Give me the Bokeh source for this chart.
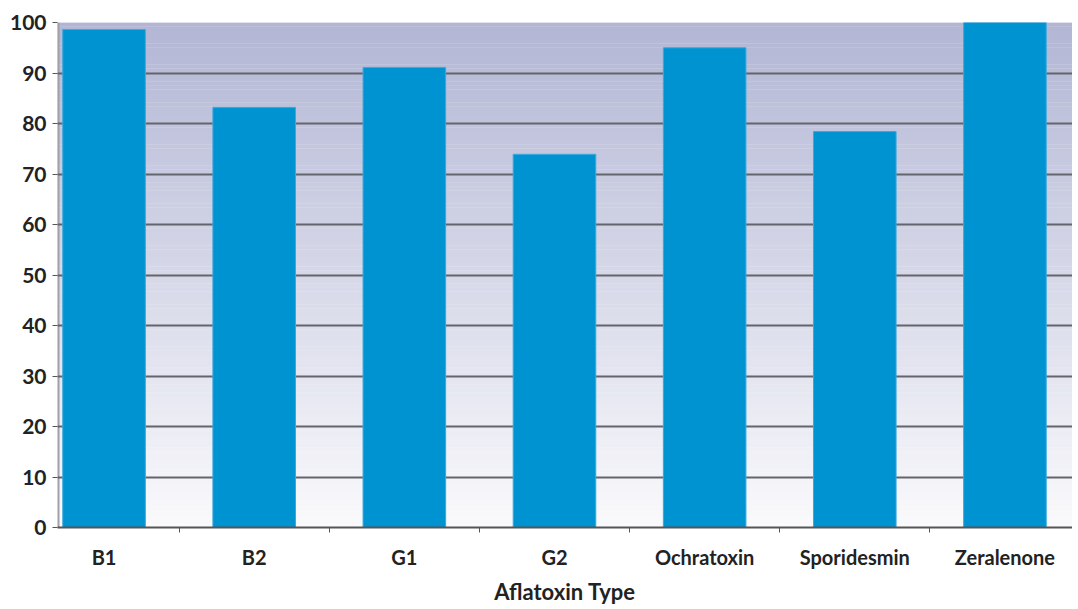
import numpy as np
from bokeh.plotting import figure
from bokeh.models import Range1d, FixedTicker, ColumnDataSource
from bokeh.embed import file_html
from bokeh.resources import INLINE

categories = ["B1", "B2", "G1", "G2", "Ochratoxin", "Sporidesmin", "Zeralenone"]
values = [98.6, 83.2, 91.1, 73.9, 95.0, 78.4, 100.0]
y_ticks = [0, 10, 20, 30, 40, 50, 60, 70, 80, 90, 100]

xs = list(range(len(categories)))
x_lo, x_hi = -0.31, len(categories) - 1 + 0.45

p = figure(width=1072, height=607, output_backend="svg", toolbar_location=None,
           x_range=Range1d(x_lo, x_hi), y_range=Range1d(0, 100),
           min_border_left=57, min_border_right=0, min_border_top=22, min_border_bottom=80)
p.outline_line_color = None
p.background_fill_color = "white"
p.border_fill_color = "white"

# gradient background (decoration)
n = 120
edges = np.linspace(0, 100, n + 1)
top_c = np.array([178, 182, 212])
bot_c = np.array([250, 250, 252])
cols = []
for i in range(n):
    t = (edges[i] + edges[i + 1]) / 200.0
    c = bot_c + (top_c - bot_c) * t
    cols.append("#%02x%02x%02x" % tuple(int(round(v)) for v in c))
p.quad(left=x_lo, right=x_hi, bottom=edges[:-1], top=edges[1:] + 0.05,
       fill_color=cols, line_color=None, level="image")

p.grid.visible = False
p.ygrid.visible = True
p.ygrid.grid_line_color = "#64646c"
p.ygrid.grid_line_width = 2
p.ygrid.level = "underlay"
p.ygrid.ticker = FixedTicker(ticks=y_ticks)
p.xgrid.visible = False

# left wall line
p.segment(x0=x_lo, x1=x_lo, y0=0, y1=100, line_color="#a0a0a8", line_width=4,
          level="underlay")

src = ColumnDataSource(dict(x=xs, top=values))
p.vbar(x="x", top="top", width=0.55, source=src, fill_color="#0093d1",
       line_color="#3aa9dd", line_width=1)

p.yaxis.ticker = FixedTicker(ticks=y_ticks)
p.yaxis.axis_line_color = None
p.yaxis.major_tick_line_color = "#555555"
p.yaxis.major_tick_in = 0
p.yaxis.major_tick_out = 5
p.yaxis.minor_tick_line_color = None
p.yaxis.major_label_text_font = "Lato"
p.yaxis.major_label_text_font_style = "bold"
p.yaxis.major_label_text_font_size = "21px"
p.yaxis.major_label_text_color = "#222222"
p.yaxis.major_label_standoff = 6

p.xaxis.ticker = FixedTicker(ticks=xs, minor_ticks=[i + 0.5 for i in xs[:-1]])
p.xaxis.major_label_overrides = {i: c for i, c in enumerate(categories)}
p.xaxis.major_tick_line_color = None
p.xaxis.minor_tick_line_color = "#555555"
p.xaxis.minor_tick_in = 0
p.xaxis.minor_tick_out = 5
p.xaxis.axis_line_color = "#555555"
p.xaxis.axis_line_width = 2
p.xaxis.major_label_text_font = "Lato"
p.xaxis.major_label_text_font_style = "bold"
p.xaxis.major_label_text_font_size = "20px"
p.xaxis.major_label_text_color = "#222222"
p.xaxis.major_label_standoff = 11
p.xaxis.axis_label = "Aflatoxin Type"
p.xaxis.axis_label_text_font = "Lato"
p.xaxis.axis_label_text_font_style = "bold"
p.xaxis.axis_label_text_font_size = "22px"
p.xaxis.axis_label_text_color = "#222222"
p.xaxis.axis_label_standoff = 6

open("out.html", "w").write(file_html(p, INLINE))
